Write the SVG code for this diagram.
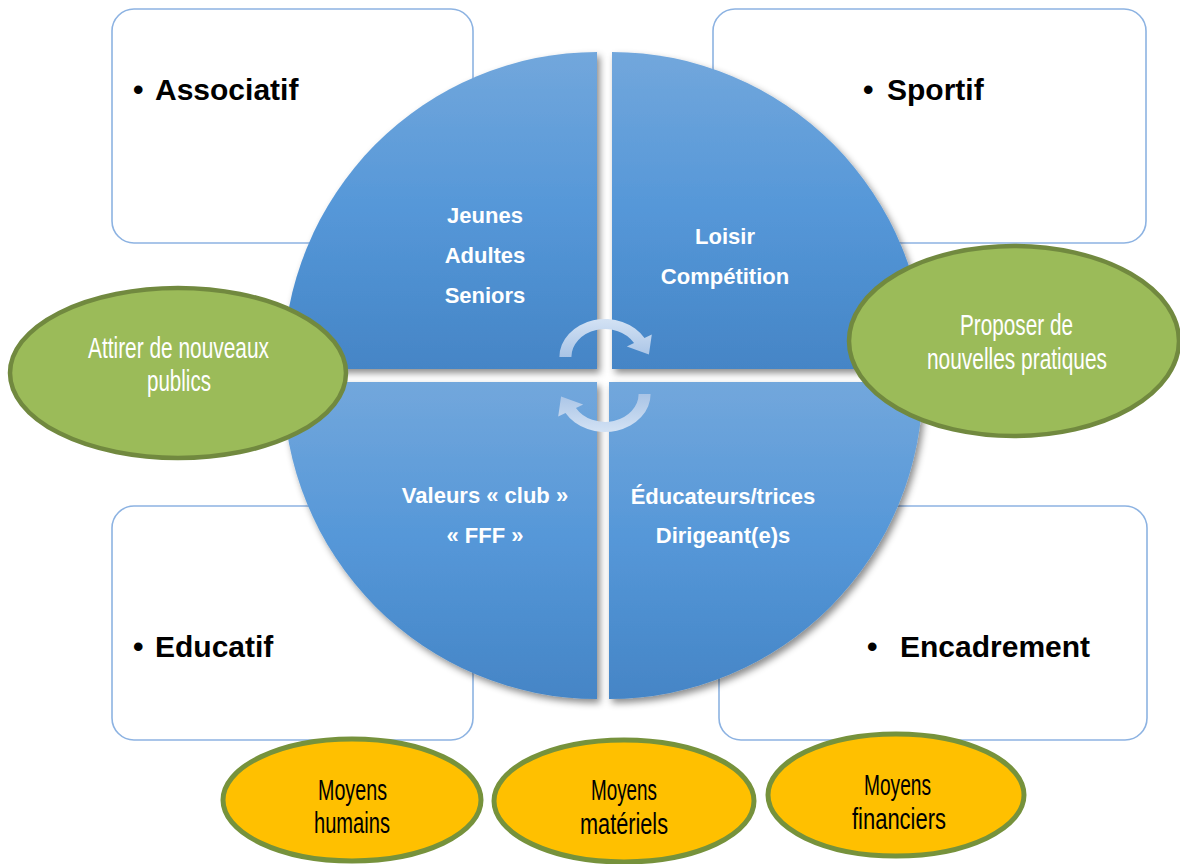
<svg xmlns="http://www.w3.org/2000/svg" width="1180" height="864" viewBox="0 0 1180 864">
<style>
.box{fill:#fff;stroke:#8db3e2;stroke-width:1.6}
.boxt{font-family:"Liberation Sans",Arial,sans-serif;font-weight:bold;font-size:30px;fill:#000}
.qt{font-family:"Liberation Sans",Arial,sans-serif;font-weight:bold;font-size:22px;fill:#fff;text-anchor:middle}
.green{fill:#9bbb59;stroke:#71893f;stroke-width:4.5}
.yellow{fill:#ffc000;stroke:#76923c;stroke-width:5}
.nt{font-family:"Liberation Sans",Arial,sans-serif;font-size:29px}
.wt{fill:#fff}
.bt{fill:#000}
.arr{fill:url(#ag)}
</style>
<defs>
<linearGradient id="qg" x1="0" y1="0" x2="0" y2="1">
<stop offset="0" stop-color="#72a7dc"/>
<stop offset="0.5" stop-color="#5597d8"/>
<stop offset="1" stop-color="#4585c6"/>
</linearGradient>
<linearGradient id="ag" x1="0" y1="0" x2="0" y2="1">
<stop offset="0" stop-color="#d3e2f4"/>
<stop offset="1" stop-color="#a9c4e6"/>
</linearGradient>
<filter id="sh" x="-10%" y="-10%" width="125%" height="125%">
<feDropShadow dx="3" dy="4" stdDeviation="3.5" flood-color="#000" flood-opacity="0.45"/>
</filter>
</defs>

<g id="box-associatif">
<rect class="box" x="112" y="9" width="361" height="234" rx="22"/>
<text class="boxt" y="100"><tspan x="133">•</tspan><tspan x="155">Associatif</tspan></text>
</g>
<g id="box-sportif">
<rect class="box" x="713" y="9" width="433" height="234" rx="22"/>
<text class="boxt" y="100"><tspan x="863">•</tspan><tspan x="887">Sportif</tspan></text>
</g>
<g id="box-educatif">
<rect class="box" x="112" y="506" width="361" height="234" rx="22"/>
<text class="boxt" y="657"><tspan x="133">•</tspan><tspan x="155">Educatif</tspan></text>
</g>
<g id="box-encadrement">
<rect class="box" x="719" y="506" width="428" height="234" rx="22"/>
<text class="boxt" y="657"><tspan x="867">•</tspan><tspan x="900">Encadrement</tspan></text>
</g>

<g id="quadrant-publics">
<path d="M597,369 L597,52 A314,317 0 0 0 283,369 Z" fill="url(#qg)" filter="url(#sh)"/>
<text class="qt" x="485" y="223">Jeunes</text>
<text class="qt" x="485" y="263">Adultes</text>
<text class="qt" x="485" y="303">Seniors</text>
</g>
<g id="quadrant-pratiques">
<path d="M612,369 L612,52 A314,317 0 0 1 926,369 Z" fill="url(#qg)" filter="url(#sh)"/>
<text class="qt" x="725" y="244">Loisir</text>
<text class="qt" x="725" y="284">Compétition</text>
</g>
<g id="quadrant-valeurs">
<path d="M597,382 L283,382 A314,317 0 0 0 597,699 Z" fill="url(#qg)" filter="url(#sh)"/>
<text class="qt" x="485" y="503">Valeurs « club »</text>
<text class="qt" x="485" y="543">« FFF »</text>
</g>
<g id="quadrant-encadrants">
<path d="M609,382 L923,382 A314,317 0 0 1 609,699 Z" fill="url(#qg)" filter="url(#sh)"/>
<text class="qt" x="723" y="504">Éducateurs/trices</text>
<text class="qt" x="723" y="543">Dirigeant(e)s</text>
</g>

<g id="connectors">
<path class="arr" transform="translate(605,357) scale(1.2,1)" d="M-38,0 A38,38 0 0 1 32.9,-19 L39,-22.5 L36.6,-2.6 L18.2,-10.5 L24.2,-14 A28,28 0 0 0 -28,0 Z"/>
<path class="arr" transform="translate(605,394) scale(1.2,1) rotate(180)" d="M-38,0 A38,38 0 0 1 32.9,-19 L39,-22.5 L36.6,-2.6 L18.2,-10.5 L24.2,-14 A28,28 0 0 0 -28,0 Z"/>
</g>

<g id="ellipse-attirer">
<ellipse class="green" cx="178" cy="373" rx="168" ry="85"/>
<text class="nt wt" x="88" y="358" textLength="181" lengthAdjust="spacingAndGlyphs">Attirer de nouveaux</text>
<text class="nt wt" x="147" y="391" textLength="64" lengthAdjust="spacingAndGlyphs">publics</text>
</g>
<g id="ellipse-proposer">
<ellipse class="green" cx="1014" cy="341" rx="165" ry="95"/>
<text class="nt wt" x="960" y="335" textLength="113" lengthAdjust="spacingAndGlyphs">Proposer de</text>
<text class="nt wt" x="927" y="369" textLength="180" lengthAdjust="spacingAndGlyphs">nouvelles pratiques</text>
</g>
<g id="ellipse-humains">
<ellipse class="yellow" cx="352" cy="800" rx="129" ry="61"/>
<text class="nt bt" x="318" y="800" textLength="69" lengthAdjust="spacingAndGlyphs">Moyens</text>
<text class="nt bt" x="314" y="833" textLength="76" lengthAdjust="spacingAndGlyphs">humains</text>
</g>
<g id="ellipse-materiels">
<ellipse class="yellow" cx="624" cy="801" rx="130" ry="61"/>
<text class="nt bt" x="591" y="800" textLength="66" lengthAdjust="spacingAndGlyphs">Moyens</text>
<text class="nt bt" x="580" y="834" textLength="88" lengthAdjust="spacingAndGlyphs">matériels</text>
</g>
<g id="ellipse-financiers">
<ellipse class="yellow" cx="896" cy="795" rx="128" ry="61"/>
<text class="nt bt" x="864" y="795" textLength="67" lengthAdjust="spacingAndGlyphs">Moyens</text>
<text class="nt bt" x="852" y="829" textLength="94" lengthAdjust="spacingAndGlyphs">financiers</text>
</g>
</svg>
